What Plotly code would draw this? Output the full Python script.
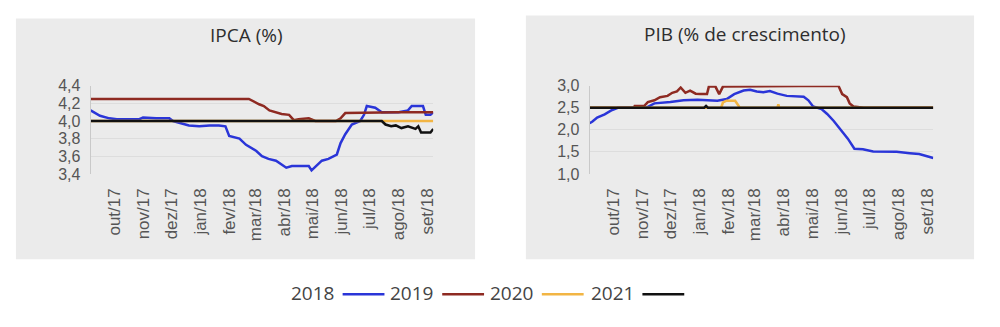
import plotly.graph_objects as go

# ---------------- IPCA (%) : market expectations by reference year ----------------
ipca_2018_dates = ["2017-09-06", "2017-09-16", "2017-09-26", "2017-10-04", "2017-10-28",
                   "2017-11-01", "2017-11-15", "2017-11-29", "2017-12-03", "2017-12-12",
                   "2017-12-20", "2017-12-31", "2018-01-11", "2018-01-21", "2018-01-28",
                   "2018-02-01", "2018-02-12", "2018-02-19", "2018-03-02", "2018-03-08",
                   "2018-03-15", "2018-03-23", "2018-03-29", "2018-04-03", "2018-04-09",
                   "2018-04-27", "2018-04-30", "2018-05-04", "2018-05-11", "2018-05-18",
                   "2018-05-27", "2018-05-31", "2018-06-05", "2018-06-12", "2018-06-21",
                   "2018-06-25", "2018-06-28", "2018-07-07", "2018-07-14", "2018-08-01",
                   "2018-08-11", "2018-08-15", "2018-08-27", "2018-08-30", "2018-09-04",
                   "2018-09-07"]
ipca_2018_vals = [4.12, 4.06, 4.03, 4.02, 4.02,
                  4.04, 4.03, 4.03, 4.00, 3.97,
                  3.95, 3.94, 3.95, 3.95, 3.94,
                  3.83, 3.80, 3.73, 3.66, 3.60,
                  3.57, 3.55, 3.51, 3.47, 3.49,
                  3.49, 3.44, 3.48, 3.55, 3.57,
                  3.62, 3.75, 3.85, 3.96, 4.00,
                  4.07, 4.17, 4.15, 4.10, 4.10,
                  4.12, 4.17, 4.17, 4.07, 4.07,
                  4.10]

ipca_2019_dates = ["2017-09-06", "2018-02-22", "2018-03-05", "2018-03-10", "2018-03-16",
                   "2018-03-23", "2018-03-29", "2018-04-06", "2018-04-11", "2018-04-16",
                   "2018-04-27", "2018-05-04", "2018-05-26", "2018-05-31", "2018-06-05",
                   "2018-08-01", "2018-09-07"]
ipca_2019_vals = [4.25, 4.25, 4.19, 4.17, 4.12,
                  4.10, 4.08, 4.07, 4.01, 4.02,
                  4.03, 4.00, 4.00, 4.03, 4.09,
                  4.10, 4.10]

ipca_2020_dates = ["2017-09-06", "2018-09-07"]
ipca_2020_vals = [4.00, 4.00]

ipca_2021_dates = ["2017-09-06", "2018-07-14", "2018-07-18", "2018-07-24", "2018-07-29",
                   "2018-08-04", "2018-08-11", "2018-08-19", "2018-08-22", "2018-08-25",
                   "2018-09-04", "2018-09-07"]
ipca_2021_vals = [4.00, 4.00, 3.96, 3.94, 3.95,
                  3.92, 3.94, 3.91, 3.94, 3.87,
                  3.87, 3.91]

# ---------------- PIB (% de crescimento) ----------------
pib_2018_dates = ["2017-09-06", "2017-09-09", "2017-09-14", "2017-09-22", "2017-09-30",
                  "2017-10-06", "2017-11-05", "2017-11-14", "2017-12-01", "2017-12-15",
                  "2017-12-30", "2018-01-12", "2018-01-20", "2018-01-30", "2018-02-07",
                  "2018-02-17", "2018-02-24", "2018-03-03", "2018-03-10", "2018-03-17",
                  "2018-03-25", "2018-04-04", "2018-04-22", "2018-04-27", "2018-05-02",
                  "2018-05-11", "2018-05-17", "2018-05-24", "2018-05-31", "2018-06-08",
                  "2018-06-15", "2018-06-24", "2018-07-05", "2018-07-30", "2018-08-13",
                  "2018-08-23", "2018-09-07"]
pib_2018_vals = [2.15, 2.19, 2.28, 2.35, 2.45,
                 2.50, 2.50, 2.60, 2.63, 2.67,
                 2.68, 2.67, 2.66, 2.70, 2.81,
                 2.89, 2.91, 2.87, 2.85, 2.88,
                 2.82, 2.77, 2.75, 2.67, 2.53,
                 2.47, 2.36, 2.20, 2.00, 1.80,
                 1.57, 1.56, 1.51, 1.50, 1.47,
                 1.45, 1.36]

pib_2019_dates = ["2017-09-06", "2017-10-23", "2017-10-24", "2017-11-03", "2017-11-07",
                  "2017-11-14", "2017-11-20", "2017-11-28", "2017-12-03", "2017-12-08",
                  "2017-12-12", "2017-12-17", "2017-12-22", "2017-12-28", "2018-01-02",
                  "2018-01-09", "2018-01-11", "2018-01-18", "2018-01-22", "2018-01-26",
                  "2018-05-29", "2018-06-02", "2018-06-07", "2018-06-10", "2018-06-14",
                  "2018-06-21", "2018-06-25", "2018-09-07"]
pib_2019_vals = [2.50, 2.50, 2.54, 2.54, 2.63,
                 2.67, 2.74, 2.77, 2.84, 2.87,
                 2.96, 2.84, 2.89, 2.82, 2.81,
                 2.81, 2.98, 2.98, 2.81, 2.98,
                 3.00, 2.81, 2.74, 2.60, 2.53,
                 2.52, 2.50, 2.50]

pib_2020_dates = ["2017-09-06", "2018-01-24", "2018-01-26", "2018-01-30", "2018-02-08",
                  "2018-02-12", "2018-02-13", "2018-03-25", "2018-03-26", "2018-03-27",
                  "2018-09-07"]
pib_2020_vals = [2.50, 2.50, 2.62, 2.66, 2.66,
                 2.55, 2.50, 2.50, 2.58, 2.50,
                 2.50]

pib_2021_dates = ["2017-09-06", "2018-01-06", "2018-01-08", "2018-01-10", "2018-09-07"]
pib_2021_vals = [2.50, 2.50, 2.54, 2.50, 2.50]

# ---------------- axes ----------------
month_ticks = ["2017-10-01", "2017-11-01", "2017-12-01", "2018-01-01", "2018-02-01",
               "2018-03-01", "2018-04-01", "2018-05-01", "2018-06-01", "2018-07-01",
               "2018-08-01", "2018-09-01"]
month_labels = ["out/17", "nov/17", "dez/17", "jan/18", "fev/18", "mar/18",
                "abr/18", "mai/18", "jun/18", "jul/18", "ago/18", "set/18"]
x_range = ["2017-09-06", "2018-09-07"]

years = ["2018", "2019", "2020", "2021"]
colors = ["#2a35d8", "#8e2a22", "#f2b544", "#111111"]

ipca_series = [(ipca_2018_dates, ipca_2018_vals), (ipca_2019_dates, ipca_2019_vals),
               (ipca_2020_dates, ipca_2020_vals), (ipca_2021_dates, ipca_2021_vals)]
pib_series = [(pib_2018_dates, pib_2018_vals), (pib_2019_dates, pib_2019_vals),
              (pib_2020_dates, pib_2020_vals), (pib_2021_dates, pib_2021_vals)]

W, H = 1000, 327


def px_x(p):
    return p / W


def px_y(p):
    return 1 - p / H


fig = go.Figure()

for (d, v), yr, c in zip(ipca_series, years, colors):
    fig.add_trace(go.Scatter(x=d, y=v, mode="lines", name=yr, showlegend=False,
                             line=dict(color=c, width=2.5), xaxis="x", yaxis="y"))
for (d, v), yr, c in zip(pib_series, years, colors):
    fig.add_trace(go.Scatter(x=d, y=v, mode="lines", name=yr, showlegend=False,
                             line=dict(color=c, width=2.5), xaxis="x2", yaxis="y2"))

y_tick_font = dict(family="Liberation Sans, Arial, sans-serif", size=16, color="#555555")
x_tick_font = dict(family="Liberation Sans, Arial, sans-serif", size=17, color="#555555")
y_dom = [px_y(175), px_y(82)]

xaxis_common = dict(type="date", range=x_range, tickvals=month_ticks, ticktext=month_labels,
                    tickangle=-90, ticks="", showgrid=False, zeroline=False, showline=False,
                    tickfont=x_tick_font, ticklabelstandoff=10)
yaxis_common = dict(showgrid=True, gridcolor="#dddddd", gridwidth=1, zeroline=False,
                    showline=True, linecolor="#c9c9c9", linewidth=1, ticks="",
                    tickfont=y_tick_font, tickformat=".1f", ticklabelstandoff=6)

fig.update_layout(
    width=W, height=H,
    margin=dict(l=0, r=0, t=0, b=0),
    paper_bgcolor="white",
    plot_bgcolor="rgba(0,0,0,0)",
    separators=",.",
    xaxis=dict(domain=[px_x(91), px_x(435)], anchor="y", **xaxis_common),
    yaxis=dict(domain=y_dom, anchor="x", range=[3.4, 4.4], dtick=0.2, **yaxis_common),
    xaxis2=dict(domain=[px_x(592), px_x(937)], anchor="y2", **xaxis_common),
    yaxis2=dict(domain=y_dom, anchor="x2", range=[1.0, 3.0], dtick=0.5, **yaxis_common),
)

# panel backgrounds
shapes = [
    dict(type="rect", xref="paper", yref="paper", layer="below",
         x0=px_x(16), x1=px_x(477), y0=px_y(265), y1=px_y(11),
         fillcolor="#ebebeb", line=dict(width=0)),
    dict(type="rect", xref="paper", yref="paper", layer="below",
         x0=px_x(528), x1=px_x(978), y0=px_y(265), y1=px_y(8),
         fillcolor="#ebebeb", line=dict(width=0)),
]

title_font = dict(family="Open Sans, sans-serif", size=19, color="#2e2e2e")
annotations = [
    dict(text="IPCA (%)", x=px_x(247), y=px_y(28), xref="paper", yref="paper",
         showarrow=False, xanchor="center", yanchor="middle", font=title_font),
    dict(text="PIB (% de crescimento)", x=px_x(748), y=px_y(27), xref="paper", yref="paper",
         showarrow=False, xanchor="center", yanchor="middle", font=title_font),
]

# legend: year label followed by its line sample
legend_font = dict(family="Open Sans, sans-serif", size=19, color="#444444")
legend_text_x = [292, 392, 492, 593]
legend_y = 301
for yr, c, tx in zip(years, colors, legend_text_x):
    annotations.append(dict(text=yr, x=px_x(tx), y=px_y(legend_y), xref="paper", yref="paper",
                            showarrow=False, xanchor="left", yanchor="middle",
                            font=legend_font, xshift=-2))
    shapes.append(dict(type="line", xref="paper", yref="paper",
                       x0=px_x(tx + 52), x1=px_x(tx + 94),
                       y0=px_y(legend_y + 1), y1=px_y(legend_y + 1),
                       line=dict(color=c, width=2.5)))

fig.update_layout(shapes=shapes, annotations=annotations)

fig.write_html("out.html")
